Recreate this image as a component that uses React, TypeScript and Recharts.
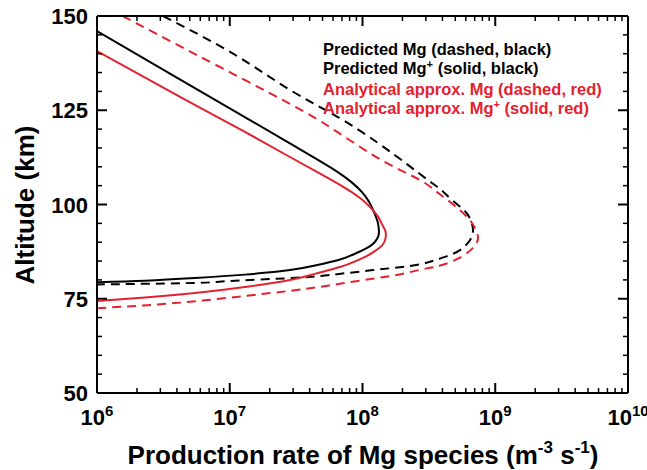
import { LineChart, Line, XAxis, YAxis } from 'recharts'

const FONT = '"Liberation Sans", Arial, Helvetica, sans-serif'
const RED = '#e3222f'

// axis ticks
const X_TICKS = [
  1e6, 2e6, 3e6, 4e6, 5e6, 6e6, 7e6, 8e6, 9e6,
  1e7, 2e7, 3e7, 4e7, 5e7, 6e7, 7e7, 8e7, 9e7,
  1e8, 2e8, 3e8, 4e8, 5e8, 6e8, 7e8, 8e8, 9e8,
  1e9, 2e9, 3e9, 4e9, 5e9, 6e9, 7e9, 8e9, 9e9,
  1e10,
]
const Y_TICKS = [50, 55, 60, 65, 70, 75, 80, 85, 90, 95, 100, 105, 110, 115, 120, 125, 130, 135, 140, 145, 150]
const Y_MAJOR = [50, 75, 100, 125, 150]

// Predicted Mg+ (solid, black)
const predIonAlt = [146.0, 133.0, 122.4, 116.2, 111.5, 108.2, 105.8, 103.3, 100.7, 98.0, 95.4, 93.0, 91.4, 89.8, 88.2, 86.6, 85.4, 83.8, 82.6, 81.4, 80.5, 79.8, 79.4]
const predIonRate = [1.0e6, 4.3e6, 1.42e7, 2.84e7, 4.79e7, 6.77e7, 8.34e7, 9.91e7, 1.12e8, 1.22e8, 1.3e8, 1.33e8, 1.31e8, 1.22e8, 1.05e8, 8.34e7, 6.77e7, 4.39e7, 2.84e7, 1.3e7, 5.47e6, 2.3e6, 1.0e6]

// Predicted Mg (dashed, black)
const predNeuAlt = [150, 140, 130.4, 123.2, 116.3, 110.5, 106.5, 103.9, 101.2, 98.5, 95.9, 93.2, 90.6, 87.9, 86.1, 84.8, 83.7, 82.6, 81.3, 80.5, 79.7, 79.2, 78.8]
const predNeuRate = [3.14e6, 1.06e7, 2.84e7, 6.53e7, 1.31e8, 2.2e8, 3.11e8, 3.9e8, 4.72e8, 5.82e8, 6.52e8, 6.8e8, 6.46e8, 5.42e8, 4.18e8, 3.22e8, 2.28e8, 1.2e8, 5.69e7, 2.94e7, 1.0e7, 5.47e6, 1.0e6]

// Analytical approx. Mg+ (solid, red)
const anaIonAlt = [140.7, 127.7, 119.8, 112.6, 108.2, 105.2, 103.2, 101.3, 99.3, 97.1, 94.8, 93.2, 91.9, 90.6, 89.1, 87.8, 86.5, 84.9, 83.4, 81.6, 80.0, 78.1, 76.5, 75.3, 74.4]
const anaIonRate = [1.0e6, 4.68e6, 1.22e7, 2.84e7, 4.79e7, 6.77e7, 8.34e7, 9.91e7, 1.14e8, 1.29e8, 1.4e8, 1.48e8, 1.5e8, 1.48e8, 1.4e8, 1.26e8, 1.1e8, 8.79e7, 6.77e7, 4.39e7, 2.84e7, 1.3e7, 5.47e6, 2.3e6, 1.0e6]

// Analytical approx. Mg (dashed, red)
const anaNeuAlt = [150, 139.9, 126.7, 119.8, 113.1, 109.2, 106.0, 103.3, 100.7, 98.0, 95.1, 91.4, 88.5, 85.9, 84.0, 83.2, 82.2, 81.1, 79.8, 78.4, 77.1, 75.8, 74.4, 73.3, 72.5]
const anaNeuRate = [1.56e6, 5.47e6, 2.84e7, 6.1e7, 1.2e8, 1.91e8, 2.86e8, 3.64e8, 4.56e8, 5.61e8, 6.68e8, 7.41e8, 6.8e8, 5.42e8, 4.04e8, 3.22e8, 2.36e8, 1.67e8, 9.57e7, 5.31e7, 2.84e7, 1.35e7, 5.77e6, 2.42e6, 1.0e6]

const toRows = (alt: number[], rate: number[]) => alt.map((a, i) => ({ alt: a, rate: rate[i] }))

const SERIES = [
  { key: 'predNeu', data: toRows(predNeuAlt, predNeuRate), color: '#000', dash: '9 6' },
  { key: 'anaNeu', data: toRows(anaNeuAlt, anaNeuRate), color: RED, dash: '9 6' },
  { key: 'predIon', data: toRows(predIonAlt, predIonRate), color: '#000', dash: undefined },
  { key: 'anaIon', data: toRows(anaIonAlt, anaIonRate), color: RED, dash: undefined },
]

const isDecade = (v: number) => Math.abs(Math.log10(v) - Math.round(Math.log10(v))) < 1e-9

function XTick(props: any) {
  const { x, y, payload, side } = props
  const major = isDecade(payload.value)
  const len = major ? 10 : 5
  const dir = side === 'bottom' ? -1 : 1
  return (
    <g>
      <line x1={x} x2={x} y1={y} y2={y + dir * len} stroke="#000" strokeWidth={major ? 2 : 1.5} />
      {side === 'bottom' && major && (
        <text x={x} y={y + 32} textAnchor="middle" fontFamily={FONT} fontWeight="bold" fontSize={22} fill="#000">
          10<tspan dy={-9} fontSize={15}>{Math.round(Math.log10(payload.value))}</tspan>
        </text>
      )}
    </g>
  )
}

function YTick(props: any) {
  const { x, y, payload, side } = props
  const major = Y_MAJOR.includes(payload.value)
  const len = major ? 10 : 5
  const dir = side === 'left' ? 1 : -1
  return (
    <g>
      <line x1={x} x2={x + dir * len} y1={y} y2={y} stroke="#000" strokeWidth={major ? 2 : 1.5} />
      {side === 'left' && major && (
        <text x={x - 9} y={y + 8} textAnchor="end" fontFamily={FONT} fontWeight="bold" fontSize={22} fill="#000">
          {payload.value}
        </text>
      )}
    </g>
  )
}

const axisLine = { stroke: '#000', strokeWidth: 2 }
const sup = { fontSize: 11, position: 'relative' as const, top: -6 }

export default function App() {
  return (
    <div style={{ position: 'absolute', left: 0, top: 0, width: 647, height: 470, background: '#fff', fontFamily: FONT, overflow: 'hidden' }}>
      <LineChart width={647} height={470} margin={{ top: 15, right: 18, bottom: 0, left: 0 }}>
        <XAxis
          dataKey="rate" type="number" scale="log" domain={[1e6, 1e10]} allowDataOverflow
          ticks={X_TICKS} interval={0} height={77} tickSize={0} tickMargin={0} tickLine={false}
          axisLine={axisLine} tick={(p: any) => <XTick {...p} side="bottom" />}
        />
        <XAxis
          xAxisId="top" orientation="top" dataKey="rate" type="number" scale="log" domain={[1e6, 1e10]} allowDataOverflow
          ticks={X_TICKS} interval={0} height={1} tickSize={0} tickMargin={0} tickLine={false}
          axisLine={axisLine} tick={(p: any) => <XTick {...p} side="top" />}
        />
        <YAxis
          type="number" domain={[50, 150]} allowDataOverflow ticks={Y_TICKS} interval={0}
          width={97} tickSize={0} tickMargin={0} tickLine={false}
          axisLine={axisLine} tick={(p: any) => <YTick {...p} side="left" />}
        />
        <YAxis
          yAxisId="right" orientation="right" type="number" domain={[50, 150]} allowDataOverflow ticks={Y_TICKS} interval={0}
          width={1} tickSize={0} tickMargin={0} tickLine={false}
          axisLine={axisLine} tick={(p: any) => <YTick {...p} side="right" />}
        />
        {SERIES.map(s => (
          <Line
            key={s.key}
            data={s.data}
            dataKey="alt"
            type="natural"
            stroke={s.color}
            strokeWidth={2}
            strokeDasharray={s.dash}
            dot={false}
            activeDot={false}
            isAnimationActive={false}
          />
        ))}
      </LineChart>

      {/* axis titles */}
      <div style={{
        position: 'absolute', left: 63, top: 442, width: 600, textAlign: 'center',
        fontSize: 26, lineHeight: '26px', fontWeight: 'bold', color: '#000', whiteSpace: 'nowrap',
      }}>
        Production rate of Mg species (m<span style={{ fontSize: 17, position: 'relative', top: -11 }}>-3</span> s<span style={{ fontSize: 17, position: 'relative', top: -11 }}>-1</span>)
      </div>
      <div style={{
        position: 'absolute', left: -100, top: 190, width: 250, height: 30, textAlign: 'center',
        fontSize: 26, lineHeight: '30px', fontWeight: 'bold', color: '#000',
        transform: 'rotate(-90deg)', whiteSpace: 'nowrap',
      }}>
        Altitude (km)
      </div>

      {/* legend */}
      <div style={{ position: 'absolute', left: 323, top: 40, fontSize: 16.5, lineHeight: '19px', fontWeight: 'bold', whiteSpace: 'nowrap' }}>
        <div style={{ color: '#000' }}>Predicted Mg (dashed, black)</div>
        <div style={{ color: '#000' }}>Predicted Mg<span style={sup}>+</span> (solid, black)</div>
        <div style={{ color: RED }}>Analytical approx. Mg (dashed, red)</div>
        <div style={{ color: RED }}>Analytical approx. Mg<span style={sup}>+</span> (solid, red)</div>
      </div>
    </div>
  )
}
